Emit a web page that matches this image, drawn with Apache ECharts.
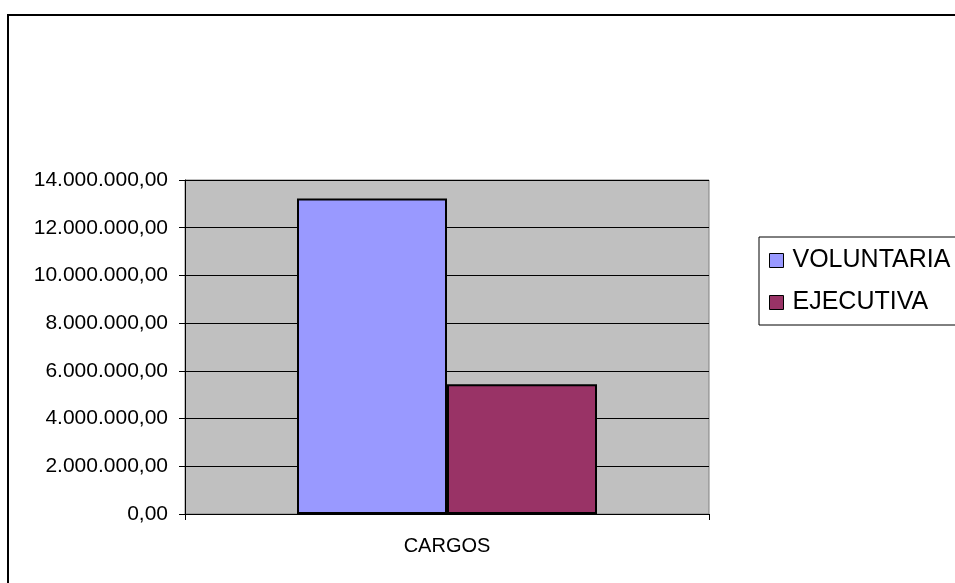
<!DOCTYPE html>
<html>
<head>
<meta charset="utf-8">
<script src="https://cdn.jsdelivr.net/npm/echarts@6/dist/echarts.min.js"></script>
<style>
html,body{margin:0;padding:0;background:#fff;}
#chart{width:955px;height:583px;}
</style>
</head>
<body>
<div id="chart"></div>
<script>
var categories = ['CARGOS'];
var seriesNames = ['VOLUNTARIA', 'EJECUTIVA'];
var voluntaria = [13220000];
var ejecutiva = [5440000];
var yTicks = { min: 0, max: 14000000, interval: 2000000 };

function fmt(v) {
  var s = Math.round(v).toString();
  s = s.replace(/\B(?=(\d{3})+(?!\d))/g, '.');
  return s + ',00';
}

var chart = echarts.init(document.getElementById('chart'), null, { renderer: 'canvas' });
var FONT = 'Liberation Sans, Arial, sans-serif';
chart.setOption({
  animation: false,
  backgroundColor: '#ffffff',
  graphic: [{
    type: 'rect',
    shape: { x: 8, y: 15, width: 1200, height: 1200 },
    style: { fill: 'none', stroke: '#000', lineWidth: 2 },
    silent: true, z: 100
  }],
  grid: {
    left: 185, right: 246, top: 180, bottom: 69,
    show: true, backgroundColor: '#C0C0C0', borderColor: '#808080', borderWidth: 1
  },
  legend: {
    orient: 'vertical',
    left: 759, top: 237,
    padding: [11, 20, 10, 10],
    itemGap: 17,
    itemWidth: 14, itemHeight: 14,
    borderColor: '#000', borderWidth: 1,
    backgroundColor: '#fff',
    icon: 'rect',
    textStyle: { fontFamily: FONT, fontSize: 25, color: '#000', padding: [0, 0, 0, 4] },
    itemStyle: { borderColor: '#000', borderWidth: 1 },
    data: seriesNames
  },
  xAxis: {
    type: 'category',
    data: categories,
    axisLine: { show: true, lineStyle: { color: '#000', width: 1 } },
    axisTick: { show: true, length: 6, lineStyle: { color: '#000' } },
    axisLabel: { fontFamily: FONT, fontSize: 20, color: '#000', margin: 22 },
    splitLine: { show: false }
  },
  yAxis: {
    type: 'value',
    min: yTicks.min, max: yTicks.max, interval: yTicks.interval,
    axisLine: { show: true, lineStyle: { color: '#000', width: 1 } },
    axisTick: { show: true, length: 6, lineStyle: { color: '#000' } },
    axisLabel: { fontFamily: FONT, fontSize: 21, color: '#000', margin: 17, formatter: fmt },
    splitLine: { show: true, lineStyle: { color: '#000', width: 1 } }
  },
  series: [
    {
      name: seriesNames[0], type: 'bar', data: voluntaria,
      barWidth: 150, barGap: '0%',
      itemStyle: { color: '#9999FF', borderColor: '#000', borderWidth: 2 }
    },
    {
      name: seriesNames[1], type: 'bar', data: ejecutiva,
      barWidth: 150, barGap: '0%',
      itemStyle: { color: '#993366', borderColor: '#000', borderWidth: 2 }
    }
  ]
});
</script>
</body>
</html>
